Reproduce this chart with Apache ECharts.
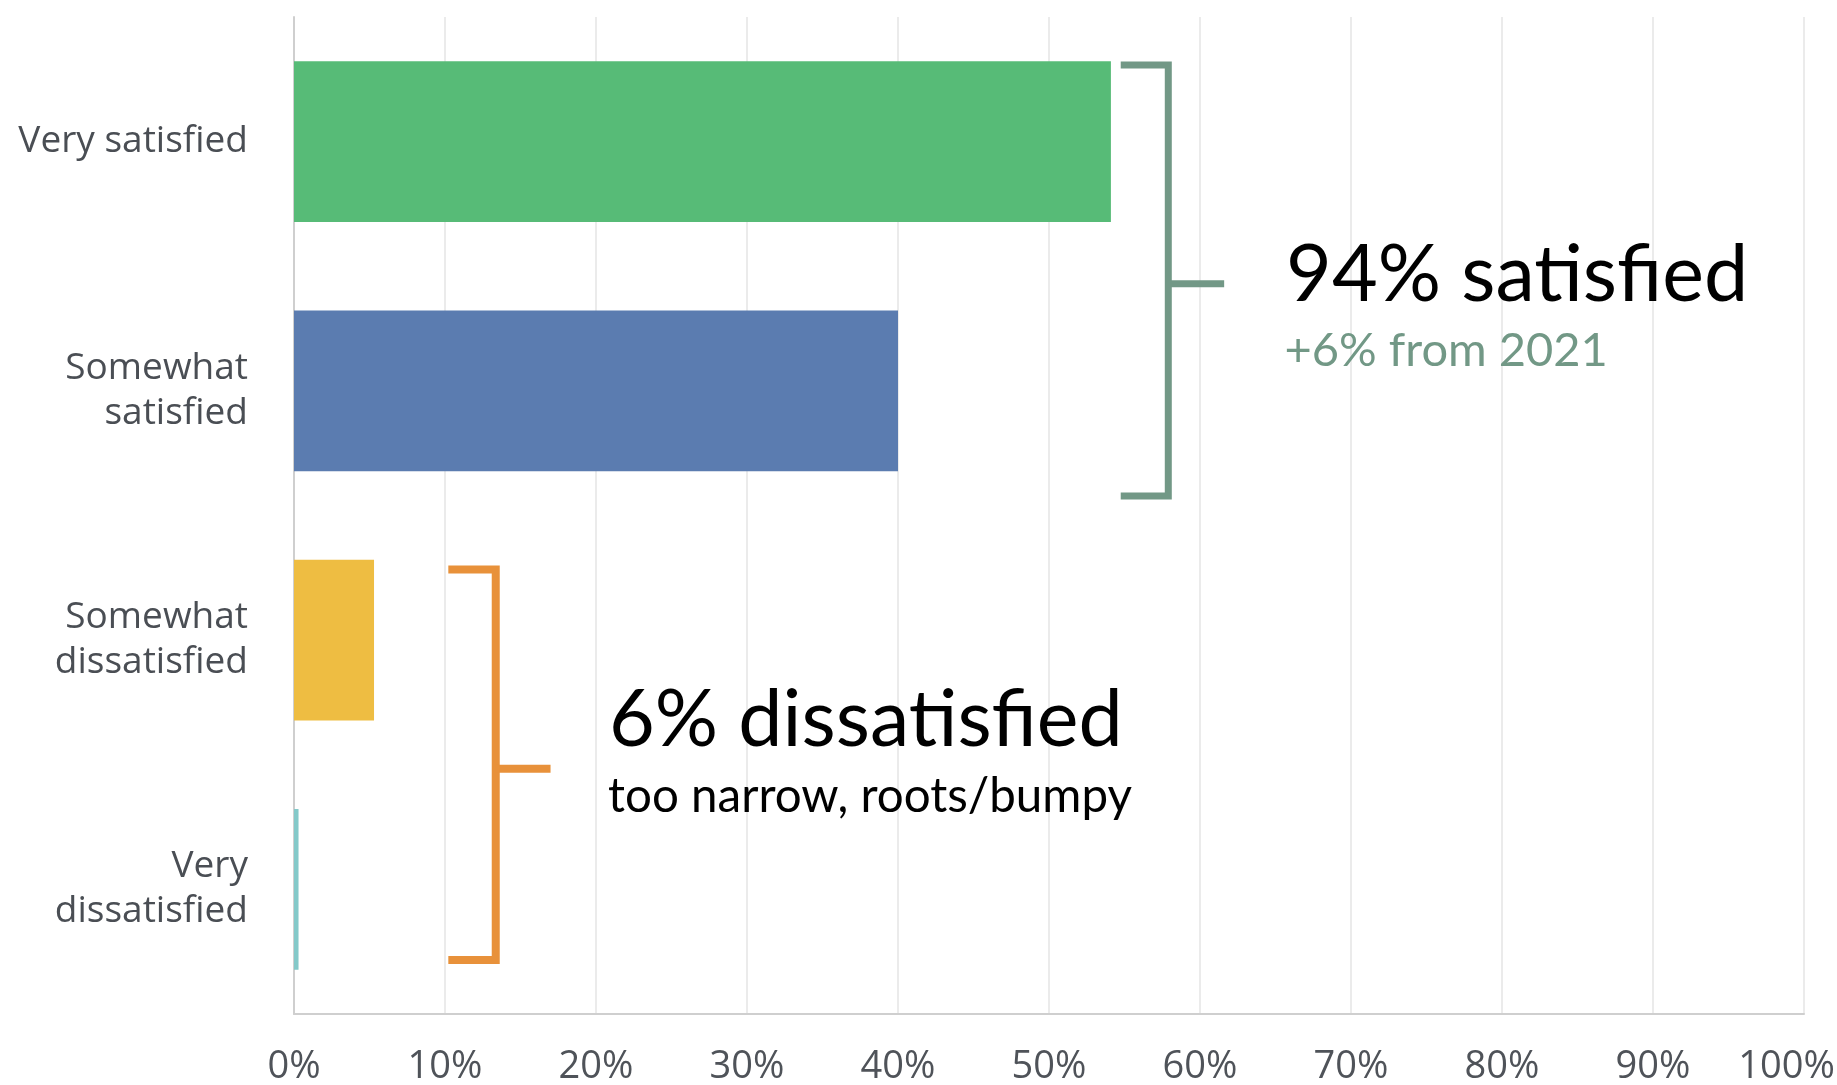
<!DOCTYPE html>
<html>
<head>
<meta charset="utf-8">
<title>Satisfaction</title>
<script src="https://cdn.jsdelivr.net/npm/echarts@6/dist/echarts.min.js"></script>
<style>
  html, body { margin: 0; padding: 0; background: #ffffff; overflow: hidden; }
  #chart { width: 1837px; height: 1085px; }
</style>
</head>
<body>
<div id="chart"></div>
<script>
// Survey answers, top to bottom
const categories = ['Very satisfied', 'Somewhat\nsatisfied', 'Somewhat\ndissatisfied', 'Very\ndissatisfied'];
// Share of respondents (%)
const shares = [54.1, 40.0, 5.3, 0.3];
const barColors = ['#57bb77', '#5b7cb0', '#eebd42', '#84c9c9'];
// Percent axis ticks
const tickMin = 0, tickMax = 100, tickStep = 10;

// Callout text
const satisfiedTitle = '94% satisfied';
const satisfiedNote = '+6% from 2021';
const dissatisfiedTitle = '6% dissatisfied';
const dissatisfiedNote = 'too narrow, roots/bumpy';

const chart = echarts.init(document.getElementById('chart'), null, { renderer: 'canvas' });

const labelFont = '"Open Sans", "Noto Sans", sans-serif';

chart.setOption({
  animation: false,
  backgroundColor: '#ffffff',
  grid: { left: 294, right: 33, top: 17, bottom: 71, containLabel: false, outerBoundsMode: 'none' },
  xAxis: {
    type: 'value',
    min: tickMin,
    max: tickMax,
    interval: tickStep,
    axisLine: { show: true, lineStyle: { color: '#cfcfcf', width: 2 } },
    axisTick: { show: false },
    splitLine: { show: true, lineStyle: { color: '#ebebeb', width: 2 } },
    axisLabel: {
      // the last tick label is nudged left so it stays inside the canvas
      formatter: v => (v === tickMax ? '{last|' + v + '%}' : v + '%'),
      rich: { last: { padding: [0, 35, 0, 0] } },
      color: '#4f5359',
      fontSize: 38,
      fontFamily: labelFont,
      margin: 34,
      hideOverlap: false
    }
  },
  yAxis: {
    type: 'category',
    inverse: true,
    data: categories,
    axisLine: { show: true, lineStyle: { color: '#cfcfcf', width: 2 } },
    axisTick: { show: false },
    splitLine: { show: false },
    axisLabel: {
      color: '#4a4e54',
      fontSize: 37,
      lineHeight: 45,
      fontFamily: labelFont,
      align: 'right',
      margin: 46
    }
  },
  series: [{
    type: 'bar',
    data: shares.map((v, i) => ({ value: v, itemStyle: { color: barColors[i] } })),
    barWidth: '64.5%',
    silent: true
  }]
});

// Callout brackets and text, anchored to axis values
function drawCallouts() {
  const xPx = v => chart.convertToPixel({ xAxisIndex: 0 }, v);
  const c0 = chart.convertToPixel({ yAxisIndex: 0 }, categories[0]);
  const c1 = chart.convertToPixel({ yAxisIndex: 0 }, categories[1]);
  const yPx = idx => c0 + idx * (c1 - c0);

  function bracket(b, color, width) {
    return [
      {
        type: 'polyline',
        shape: {
          points: [
            [xPx(b.left), yPx(b.top)],
            [xPx(b.spine), yPx(b.top)],
            [xPx(b.spine), yPx(b.bottom)],
            [xPx(b.left), yPx(b.bottom)]
          ]
        },
        style: { stroke: color, lineWidth: width, fill: null, lineJoin: 'miter', lineCap: 'butt' },
        z: 10
      },
      {
        type: 'line',
        shape: { x1: xPx(b.spine), y1: yPx(b.stub), x2: xPx(b.stubEnd), y2: yPx(b.stub) },
        style: { stroke: color, lineWidth: width, lineCap: 'butt' },
        z: 10
      }
    ];
  }

  function label(text, x, idx, size, color) {
    return {
      type: 'text',
      x: xPx(x),
      y: yPx(idx),
      style: {
        text: text,
        fill: color,
        font: size + 'px Lato, "Open Sans", sans-serif',
        textAlign: 'left',
        textVerticalAlign: 'middle'
      },
      z: 11
    };
  }

  const satisfiedBracket = { left: 54.75, spine: 57.9, stubEnd: 61.6, top: -0.307, bottom: 1.422, stub: 0.570 };
  const dissatisfiedBracket = { left: 10.22, spine: 13.36, stubEnd: 16.99, top: 1.717, bottom: 3.283, stub: 2.516 };

  const sage = '#729886';
  const orange = '#e8913a';

  chart.setOption({
    graphic: [
      ...bracket(satisfiedBracket, sage, 7),
      ...bracket(dissatisfiedBracket, orange, 8),
      label(satisfiedTitle, 65.7, 0.539, 79, '#000000'),
      label(satisfiedNote, 65.6, 0.84, 47, sage),
      label(dissatisfiedTitle, 20.86, 2.324, 79, '#000000'),
      label(dissatisfiedNote, 20.8, 2.628, 47.5, '#000000')
    ]
  });
}

drawCallouts();
</script>
</body>
</html>
